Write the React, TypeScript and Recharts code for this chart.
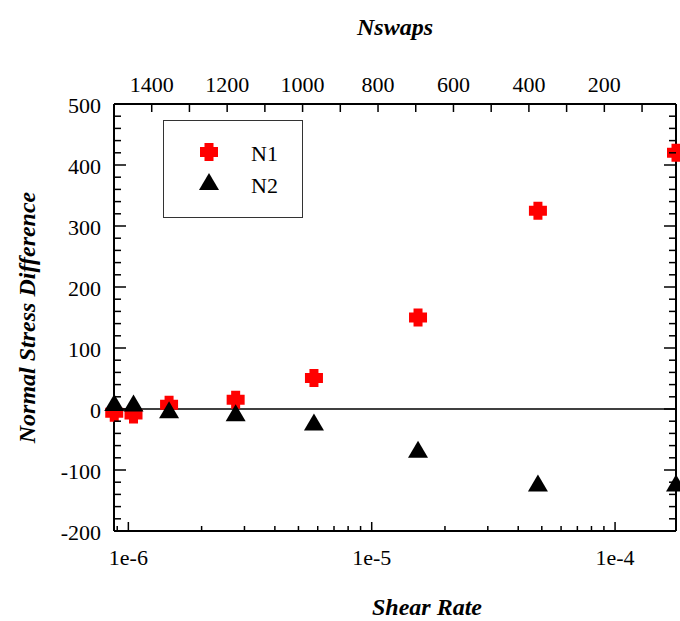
import React from 'react';
import {
  ScatterChart,
  Scatter,
  XAxis,
  YAxis,
  ReferenceLine,
  Legend,
} from 'recharts';

// Shear rate of each run (bottom log axis)
const shearRate = [8.75e-7, 1.05e-6, 1.47e-6, 2.76e-6, 5.79e-6, 1.55e-5, 4.82e-5, 1.78e-4];
// Normal stress differences
const n1Values = [-6, -9, 7, 15, 51, 150, 325, 420];
const n2Values = [10, 9, -2, -7, -22, -67, -122, -122];

// Axis ticks
const yLabelTicks = [-200, -100, 0, 100, 200, 300, 400, 500];
const xDecadeTicks = [1e-6, 1e-5, 1e-4];
const nswapTicks = [1500, 1400, 1300, 1200, 1100, 1000, 900, 800, 700, 600, 500, 400, 300, 200, 100];
const nswapLabels = [1400, 1200, 1000, 800, 600, 400, 200];

const FONT = 'Liberation Serif, Times New Roman, serif';

const n1Data = shearRate.map((x, i) => ({ x, y: n1Values[i] }));
const n2Data = shearRate.map((x, i) => ({ x, y: n2Values[i] }));

// minor ticks every 20 on the y axis
const yTicks: number[] = [];
for (let v = -200; v <= 500; v += 20) yTicks.push(v);

// log minor ticks 2..9 per decade
const xTicks: number[] = [9e-7];
xDecadeTicks.forEach((d) => {
  for (let m = 1; m <= 9; m++) {
    const v = d * m;
    if (v <= 1.78e-4) xTicks.push(v);
  }
});

// Nswaps decreases to the right: plot it as -Nswaps so it runs left to right
const topTicks = nswapTicks.map((v) => -v);

const Cross = ({ cx, cy }: any) => (
  <path
    d={`M${cx - 4.5},${cy - 9} h9 v4 h4.5 v10 h-4.5 v4 h-9 v-4 h-4.5 v-10 h4.5 z`}
    fill="#ff0000"
  />
);

const Triangle = ({ cx, cy }: any) => (
  <path d={`M${cx},${cy - 9} L${cx + 10},${cy + 8} L${cx - 10},${cy + 8} Z`} fill="#000" />
);

const LeftTick = ({ x, y, payload }: any) => {
  const v = payload.value;
  const major = yLabelTicks.includes(v);
  return (
    <g>
      <line x1={x} x2={x + (major ? 12 : 7)} y1={y} y2={y} stroke="#000" strokeWidth={1.5} />
      {major && (
        <text x={x - 13} y={y + 1} textAnchor="end" dominantBaseline="central"
          style={{ fontFamily: FONT, fontSize: 22 }} fill="#000">
          {v}
        </text>
      )}
    </g>
  );
};

const RightTick = ({ x, y, payload }: any) => {
  const major = yLabelTicks.includes(payload.value);
  return <line x1={x} x2={x - (major ? 12 : 7)} y1={y} y2={y} stroke="#000" strokeWidth={1.5} />;
};

const BottomTick = ({ x, y, payload }: any) => {
  const v = payload.value;
  const major = xDecadeTicks.some((d) => Math.abs(d - v) / d < 1e-6);
  return (
    <g>
      <line x1={x} x2={x} y1={y} y2={y - (major ? 9 : 5)} stroke="#000" strokeWidth={1.5} />
      {major && (
        <text x={x} y={y + 26} textAnchor="middle" dominantBaseline="central"
          style={{ fontFamily: FONT, fontSize: 22 }} fill="#000">
          {`1e${Math.round(Math.log10(v))}`}
        </text>
      )}
    </g>
  );
};

const TopTick = ({ x, y, payload }: any) => {
  const v = -payload.value;
  return (
    <g>
      <line x1={x} x2={x} y1={y} y2={y + 8} stroke="#000" strokeWidth={1.5} />
      {nswapLabels.includes(v) && (
        <text x={x} y={y - 20} textAnchor="middle" dominantBaseline="central"
          style={{ fontFamily: FONT, fontSize: 22 }} fill="#000">
          {v}
        </text>
      )}
    </g>
  );
};

const titleStyle = { fontFamily: FONT, fontSize: 24, fontWeight: 'bold' as const, fontStyle: 'italic' as const };

const renderLegend = () => (
  <svg width={140} height={98}>
    <rect x={0.5} y={0.5} width={139} height={97} fill="#fff" stroke="#333" strokeWidth={1} />
    <Cross cx={46} cy={32} />
    <text x={88} y={33} dominantBaseline="central" style={{ fontFamily: FONT, fontSize: 22 }} fill="#000">N1</text>
    <Triangle cx={46} cy={62} />
    <text x={88} y={65} dominantBaseline="central" style={{ fontFamily: FONT, fontSize: 22 }} fill="#000">N2</text>
  </svg>
);

export default function App() {
  return (
    <div style={{ position: 'absolute', left: 0, top: 0, background: '#fff' }}>
      <ScatterChart width={680} height={621} margin={{ top: 44, right: 0, bottom: 30, left: 14 }}>
        <XAxis
          xAxisId="bottom"
          dataKey="x"
          type="number"
          scale="log"
          domain={[8.73e-7, 1.78e-4]}
          ticks={xTicks}
          interval={0}
          height={60}
          tickSize={0}
          tickMargin={0}
          tickLine={false}
          tick={<BottomTick />}
          axisLine={{ stroke: '#000', strokeWidth: 2 }}
          label={{
            value: 'Shear Rate',
            content: ({ viewBox }: any) => (
              <text x={viewBox.x + viewBox.width / 2 + 32} y={607} textAnchor="middle"
                dominantBaseline="central" style={titleStyle} fill="#000">Shear Rate</text>
            ),
          }}
        />
        <XAxis
          xAxisId="top"
          orientation="top"
          dataKey="n"
          type="number"
          domain={[-1500, -10]}
          allowDataOverflow
          ticks={topTicks}
          interval={0}
          height={60}
          tickSize={0}
          tickMargin={0}
          tickLine={false}
          tick={<TopTick />}
          axisLine={{ stroke: '#000', strokeWidth: 2 }}
          label={{
            value: 'Nswaps',
            content: ({ viewBox }: any) => (
              <text x={viewBox.x + viewBox.width / 2} y={27} textAnchor="middle"
                dominantBaseline="central" style={titleStyle} fill="#000">Nswaps</text>
            ),
          }}
        />
        <YAxis
          yAxisId="left"
          dataKey="y"
          type="number"
          domain={[-200, 500]}
          ticks={yTicks}
          interval={0}
          width={100}
          tickSize={0}
          tickMargin={0}
          tickLine={false}
          tick={<LeftTick />}
          axisLine={{ stroke: '#000', strokeWidth: 2 }}
          label={{
            value: 'Normal Stress Difference',
            content: ({ viewBox }: any) => {
              const cx = viewBox.x + 13;
              const cy = viewBox.y + viewBox.height / 2;
              return (
                <text x={cx} y={cy} transform={`rotate(-90 ${cx} ${cy})`} textAnchor="middle"
                  dominantBaseline="central" style={titleStyle} fill="#000">Normal Stress Difference</text>
              );
            },
          }}
        />
        <YAxis
          yAxisId="right"
          orientation="right"
          dataKey="y"
          type="number"
          domain={[-200, 500]}
          allowDataOverflow
          ticks={yTicks}
          interval={0}
          width={4}
          tickSize={0}
          tickMargin={0}
          tickLine={false}
          tick={<RightTick />}
          axisLine={{ stroke: '#000', strokeWidth: 2 }}
        />
        <ReferenceLine y={0} xAxisId="bottom" yAxisId="left" stroke="#000" strokeWidth={1.5} />
        <Legend
          content={renderLegend}
          layout="horizontal"
          verticalAlign="middle"
          align="center"
          wrapperStyle={{ position: 'absolute', left: 163, top: 120, width: 140, height: 98 }}
        />
        <Scatter data={[]} xAxisId="top" yAxisId="right" isAnimationActive={false} legendType="none" />
        <Scatter name="N1" data={n1Data} xAxisId="bottom" yAxisId="left" shape={Cross} isAnimationActive={false} />
        <Scatter name="N2" data={n2Data} xAxisId="bottom" yAxisId="left" shape={Triangle} isAnimationActive={false} />
      </ScatterChart>
    </div>
  );
}
